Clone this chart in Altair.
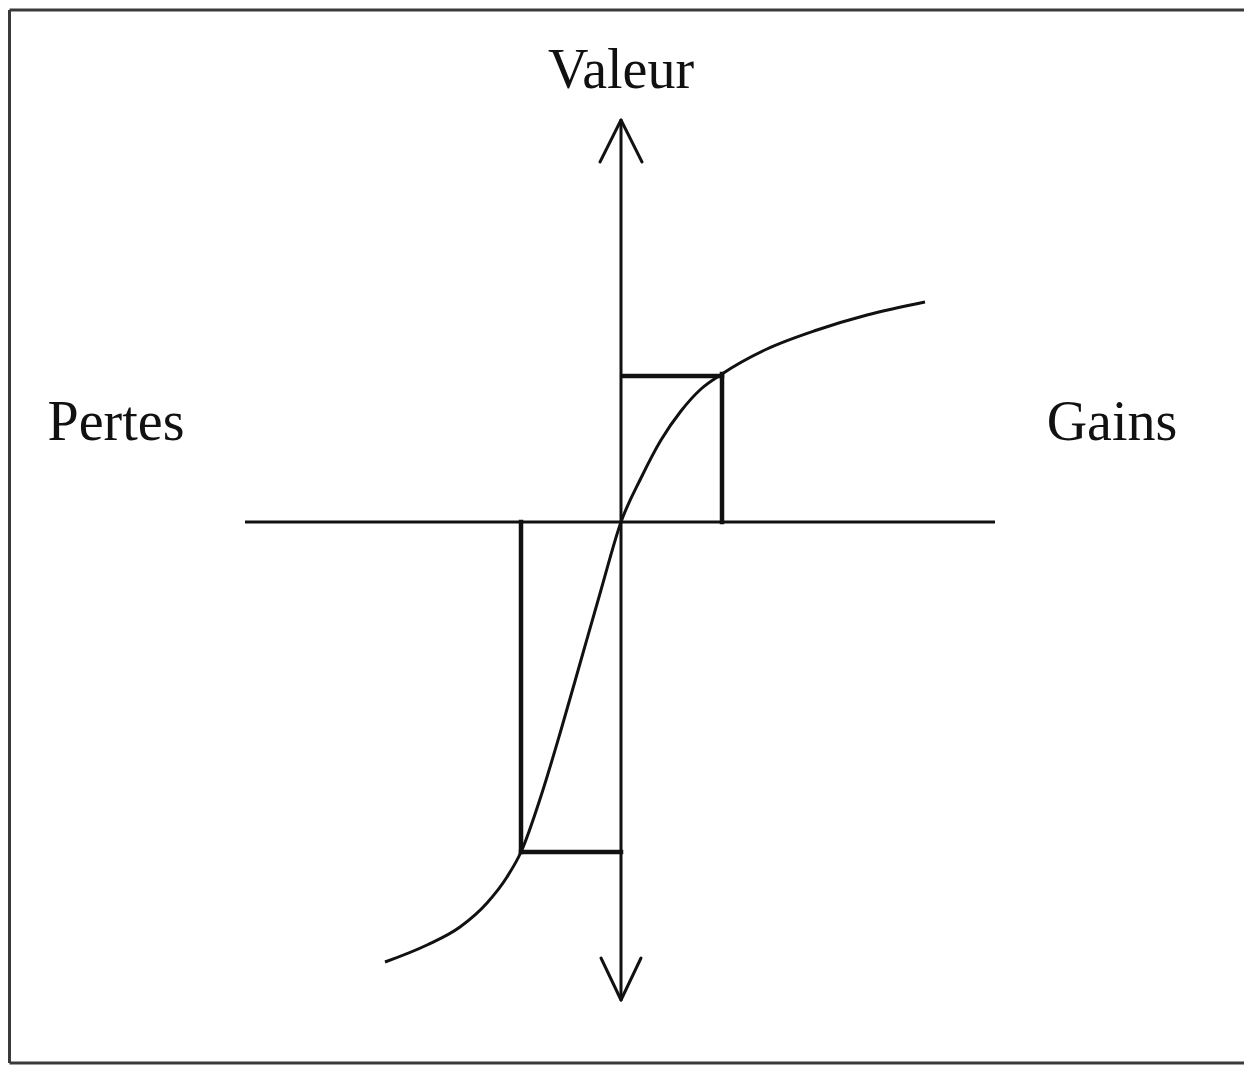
import altair as alt
import pandas as pd

# Value function curve (prospect theory), origin at (0, 0)
curve_x = [-2.36, -1.94, -1.61, -1.34, -1.14, -1.00, -0.80, -0.60, -0.40, -0.20,
           0.0, 0.20, 0.40, 0.60, 0.80, 1.01, 1.46, 1.96, 2.46, 3.04]
curve_y = [-4.40, -4.23, -4.05, -3.81, -3.55, -3.30, -2.74, -2.08, -1.38, -0.68,
           0.0, 0.44, 0.82, 1.11, 1.33, 1.48, 1.73, 1.92, 2.07, 2.20]

# Axes (horizontal and vertical) and arrow heads
axis_x1 = [-3.76, 0.0]
axis_y1 = [0.0, -4.78]
axis_x2 = [3.74, 0.0]
axis_y2 = [0.0, 4.02]

arrow_x1 = [0.0, 0.0, 0.0, 0.0]
arrow_y1 = [4.02, 4.02, -4.78, -4.78]
arrow_x2 = [-0.21, 0.21, -0.20, 0.20]
arrow_y2 = [3.60, 3.60, -4.36, -4.36]

# Gain / loss boxes
box_x1 = [0.02, 1.01, -1.00, -1.00]
box_y1 = [1.46, 1.48, 0.0, -3.30]
box_x2 = [1.01, 1.01, -1.00, 0.0]
box_y2 = [1.46, 0.0, -3.30, -3.30]

# Frame
frame_x1 = [-6.115, -6.115, -6.115]
frame_y1 = [5.12, 5.12, -5.41]
frame_x2 = [-6.115, 6.23, 6.23]
frame_y2 = [-5.41, 5.12, -5.41]

labels = ["Valeur", "Pertes", "Gains"]
label_x = [0.0, -5.05, 4.91]
label_y = [4.34, 0.82, 0.82]

xs = alt.Scale(domain=[-6.13, 6.23], nice=False, zero=False)
ys = alt.Scale(domain=[-5.43, 5.14], nice=False, zero=False)

curve_df = pd.DataFrame({"x": curve_x, "y": curve_y, "o": list(range(len(curve_x)))})
axis_df = pd.DataFrame({"x": axis_x1, "y": axis_y1, "x2": axis_x2, "y2": axis_y2})
arrow_df = pd.DataFrame({"x": arrow_x1, "y": arrow_y1, "x2": arrow_x2, "y2": arrow_y2})
box_df = pd.DataFrame({"x": box_x1, "y": box_y1, "x2": box_x2, "y2": box_y2})
frame_df = pd.DataFrame({"x": frame_x1, "y": frame_y1, "x2": frame_x2, "y2": frame_y2})
label_df = pd.DataFrame({"t": labels, "x": label_x, "y": label_y})


def seg_enc(ch):
    return ch.encode(
        x=alt.X("x:Q", scale=xs, axis=None),
        y=alt.Y("y:Q", scale=ys, axis=None),
        x2="x2:Q",
        y2="y2:Q",
    )


frame = seg_enc(alt.Chart(frame_df).mark_rule(color="#3a3a3a", strokeWidth=3))
axes = seg_enc(alt.Chart(axis_df).mark_rule(color="#111111", strokeWidth=3))
arrows = seg_enc(alt.Chart(arrow_df).mark_rule(color="#111111", strokeWidth=3, strokeCap="round"))
boxes = seg_enc(alt.Chart(box_df).mark_rule(color="#111111", strokeWidth=4.5, strokeCap="square"))

curve = alt.Chart(curve_df).mark_line(color="#111111", strokeWidth=3, interpolate="monotone").encode(
    x=alt.X("x:Q", scale=xs, axis=None),
    y=alt.Y("y:Q", scale=ys, axis=None),
    order="o:Q",
)

text = alt.Chart(label_df).mark_text(
    font="Liberation Serif", fontSize=56, color="#111111", align="center", baseline="alphabetic"
).encode(
    x=alt.X("x:Q", scale=xs, axis=None),
    y=alt.Y("y:Q", scale=ys, axis=None),
    text="t:N",
)

chart = alt.layer(frame, axes, arrows, boxes, curve, text).properties(
    width=1236,
    height=1057,
    padding=0,
    autosize=alt.AutoSizeParams(type="none"),
    background="white",
).configure_view(stroke=None)

chart.save("out.html", embed_options={"renderer": "svg", "actions": False})
